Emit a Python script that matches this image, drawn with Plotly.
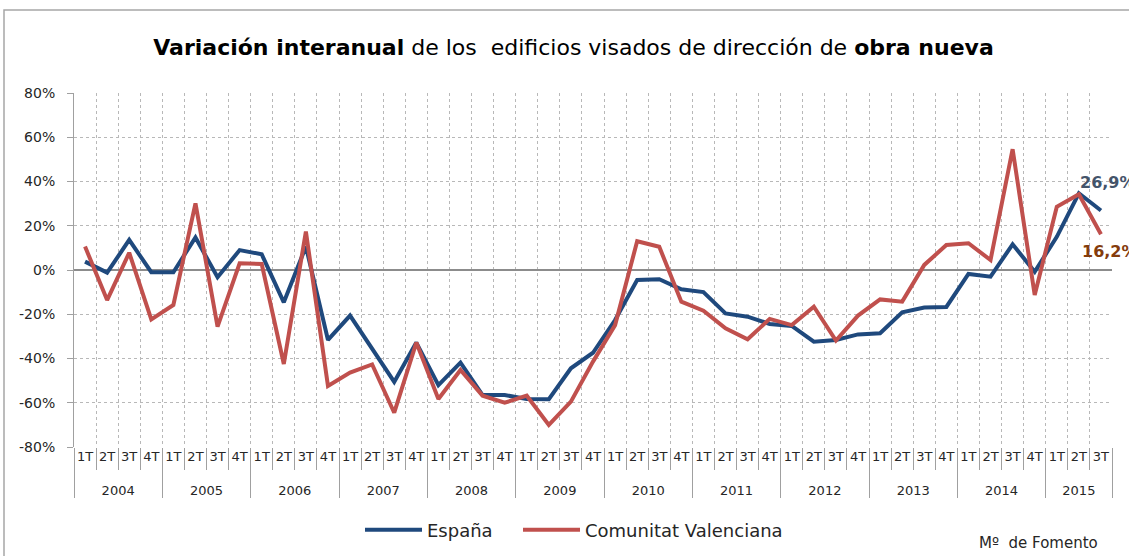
import plotly.graph_objects as go

years = [str(y) for y in range(2004, 2016)]
quarters = ["1T", "2T", "3T", "4T"]

espana = [3.8, -1.2, 13.6, -1.0, -1.0, 14.7, -3.3, 9.0, 7.1, -14.6, 10.6, -31.6,
          -20.6, -36.0, -50.6, -32.8, -52.0, -41.9, -56.5, -56.5, -58.3, -58.4, -44.4, -37.4,
          -22.6, -4.5, -4.2, -8.7, -10.0, -19.6, -21.1, -24.4, -25.3, -32.4, -31.6, -29.1,
          -28.6, -19.1, -17.0, -16.7, -1.8, -3.0, 11.6, -0.8, 15.0, 34.7, 26.9]
valenciana = [10.6, -13.6, 7.8, -22.3, -15.8, 30.1, -25.6, 3.0, 2.7, -42.5, 17.4, -52.4,
              -46.4, -42.7, -64.5, -32.8, -58.3, -45.2, -56.8, -60.0, -56.8, -70.0, -59.5, -41.4,
              -24.9, 13.0, 10.5, -14.3, -18.4, -26.4, -31.3, -22.1, -24.9, -16.6, -31.9, -20.6,
              -13.3, -14.3, 2.3, 11.3, 12.1, 4.5, 54.6, -11.3, 28.6, 34.2, 16.2]

n = len(espana)
# outer (year) level shown one short line lower, as in the reference
x_years = ["<br>" + years[i // 4] for i in range(n)]
x_quarters = [quarters[i % 4] for i in range(n)]

yticks = [-80, -60, -40, -20, 0, 20, 40, 60, 80]
yticktext = [f"{v}%" for v in yticks]

FONT = "DejaVu Sans"
BLUE = "#1f497d"
RED = "#c0504d"
GRID = "#b8b8b8"
AXIS = "#a0a0a0"

fig = go.Figure()
fig.add_trace(go.Scatter(x=[x_years, x_quarters], y=espana, mode="lines", name="España",
                         line=dict(color=BLUE, width=4), legend="legend"))
fig.add_trace(go.Scatter(x=[x_years, x_quarters], y=valenciana, mode="lines", name="Comunitat Valenciana",
                         line=dict(color=RED, width=4), legend="legend2"))

# plot area 74..1112 x 93..447
L, R, T, B = 74, 17, 93, 109
W, H = 1129, 556
pw, ph = W - L - R, H - T - B

def px(xpix):
    return (xpix - L) / pw

def py(ypix):
    return (H - B - ypix) / ph

leg_common = dict(orientation="h", xanchor="left", y=py(530), yanchor="middle",
                  font=dict(family=FONT, size=18, color="#262626"), itemwidth=57,
                  bgcolor="rgba(0,0,0,0)")

fig.update_layout(
    width=W, height=H,
    margin=dict(l=L, r=R, t=T, b=B, autoexpand=False),
    paper_bgcolor="white", plot_bgcolor="white",
    font=dict(family=FONT, color="#262626"),
    title=dict(text="<b>Variación interanual</b> de los  edificios visados de dirección de <b>obra nueva</b>",
               x=0.508, xanchor="center", y=1 - 47 / H, yanchor="middle",
               font=dict(family=FONT, size=22, color="#000000")),
    showlegend=True,
    legend=dict(x=px(360), **leg_common),
    legend2=dict(x=px(518), **leg_common),
    xaxis=dict(type="multicategory", range=[-0.5, n - 0.5], tickson="boundaries", showgrid=True,
               gridcolor=GRID, griddash="dot", gridwidth=1, ticks="outside", ticklen=22,
               tickcolor=AXIS, showdividers=True, dividercolor=AXIS, dividerwidth=1, tickangle=0,
               automargin=False,
               tickfont=dict(family=FONT, size=13, color="#262626"), showline=False, zeroline=False),
    yaxis=dict(range=[-80, 80], tickvals=yticks, ticktext=yticktext, showgrid=True,
               gridcolor=GRID, griddash="dot", gridwidth=1, zeroline=True,
               zerolinecolor="#8c8c8c", zerolinewidth=1.5, ticks="outside", ticklen=6,
               tickcolor=AXIS, ticklabelstandoff=9, automargin=False,
               showline=True, linecolor=AXIS, linewidth=1,
               tickfont=dict(family=FONT, size=14, color="#262626")),
)

fig.add_annotation(x=n - 1, y=espana[-1], xref="x", yref="y", text="<b>26,9%</b>", showarrow=False,
                   xanchor="left", yanchor="middle", xshift=-23, yshift=28,
                   font=dict(family=FONT, size=16, color="#44546a"))
fig.add_annotation(x=n - 1, y=valenciana[-1], xref="x", yref="y", text="<b>16,2%</b>", showarrow=False,
                   xanchor="left", yanchor="middle", xshift=-21, yshift=-17,
                   font=dict(family=FONT, size=16, color="#843c0c"))
fig.add_annotation(x=px(1100), y=py(543), xref="paper", yref="paper", text="Mº  de Fomento",
                   showarrow=False, xanchor="right", yanchor="middle",
                   font=dict(family=FONT, size=15, color="#262626"))

fig.add_shape(type="rect", xref="paper", yref="paper", x0=px(4), x1=px(1140), y0=py(570), y1=py(10),
              line=dict(color="#a6a6a6", width=1.5), fillcolor="rgba(0,0,0,0)", layer="below")

fig.write_html("out.html", config={"displayModeBar": False},
               post_script="document.body.style.margin='0px';document.body.style.overflow='hidden';")
